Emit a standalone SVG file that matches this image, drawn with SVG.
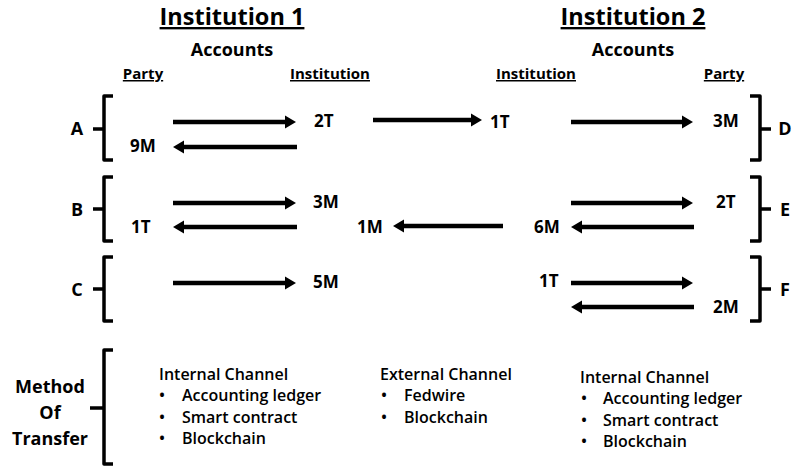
<svg xmlns="http://www.w3.org/2000/svg" width="793" height="468" viewBox="0 0 793 468">
  <style>
    text { font-family: "Open Sans", "Liberation Sans", sans-serif; font-weight: 700; fill: #000; }
    .title { font-size: 23.5px; text-anchor: middle; text-decoration: underline; }
    .acc { font-size: 18px; text-anchor: middle; }
    .col { font-size: 15px; text-anchor: middle; text-decoration: underline; }
    .lbl { font-size: 18px; text-anchor: middle; }
    .amt { font-size: 17px; }
    .ch { font-size: 16px; font-weight: 600; }
    .brace { fill: none; stroke: #000; stroke-width: 3.5; stroke-linejoin: round; }
    .flow line { stroke: #000; stroke-width: 4.5; marker-end: url(#head); }
  </style>
  <defs>
    <marker id="head" markerUnits="userSpaceOnUse" markerWidth="14" markerHeight="14" viewBox="0 -7 12 14" refX="2" refY="0" orient="auto">
      <path d="M0,-6.5 L11,0 L0,6.5 z" fill="#000"/>
    </marker>
  </defs>

  <rect width="793" height="468" fill="#fff"/>

  <!-- headings -->
  <g id="institution-1">
    <text class="title" x="232" y="25">Institution 1</text>
    <text class="acc" x="232" y="56">Accounts</text>
    <text class="col" x="143" y="79">Party</text>
    <text class="col" x="330" y="79">Institution</text>
  </g>
  <g id="institution-2">
    <text class="title" x="633" y="25">Institution 2</text>
    <text class="acc" x="633" y="56">Accounts</text>
    <text class="col" x="536" y="79">Institution</text>
    <text class="col" x="724" y="79">Party</text>
  </g>

  <!-- left parties -->
  <g id="party-a">
    <path class="brace" d="M113,96 H104 V160 H113 M93,129 H104"/>
    <text class="lbl" x="77" y="135">A</text>
  </g>
  <g id="party-b">
    <path class="brace" d="M113,177 H104 V241 H113 M93,209 H104"/>
    <text class="lbl" x="77" y="216">B</text>
  </g>
  <g id="party-c">
    <path class="brace" d="M113,257 H104 V321 H113 M93,289 H104"/>
    <text class="lbl" x="77" y="296">C</text>
  </g>

  <!-- right parties -->
  <g id="party-d">
    <path class="brace" d="M750,96 H760 V160 H750 M760,129 H771"/>
    <text class="lbl" x="785" y="135">D</text>
  </g>
  <g id="party-e">
    <path class="brace" d="M750,177 H760 V241 H750 M760,209 H771"/>
    <text class="lbl" x="785" y="216">E</text>
  </g>
  <g id="party-f">
    <path class="brace" d="M750,257 H760 V321 H750 M760,289 H771"/>
    <text class="lbl" x="785" y="296">F</text>
  </g>

  <!-- account balances -->
  <g id="balances">
    <text class="amt" x="314" y="127">2T</text>
    <text class="amt" x="130" y="152">9M</text>
    <text class="amt" x="490" y="128">1T</text>
    <text class="amt" x="713" y="127">3M</text>
    <text class="amt" x="313" y="208">3M</text>
    <text class="amt" x="131" y="233">1T</text>
    <text class="amt" x="357" y="233">1M</text>
    <text class="amt" x="534" y="233">6M</text>
    <text class="amt" x="716" y="208">2T</text>
    <text class="amt" x="313" y="288">5M</text>
    <text class="amt" x="539" y="287">1T</text>
    <text class="amt" x="713" y="313">2M</text>
  </g>

  <!-- transfers -->
  <g id="connectors" class="flow">
    <line x1="173" y1="122" x2="287" y2="122"/>
    <line x1="297" y1="147" x2="182" y2="147"/>
    <line x1="373" y1="120" x2="473" y2="120"/>
    <line x1="571" y1="122" x2="684" y2="122"/>
    <line x1="173" y1="203" x2="287" y2="203"/>
    <line x1="297" y1="227" x2="182" y2="227"/>
    <line x1="503" y1="226" x2="402" y2="226"/>
    <line x1="571" y1="203" x2="684" y2="203"/>
    <line x1="694" y1="227" x2="580" y2="227"/>
    <line x1="173" y1="283" x2="287" y2="283"/>
    <line x1="571" y1="283" x2="684" y2="283"/>
    <line x1="694" y1="307" x2="580" y2="307"/>
  </g>

  <!-- method of transfer -->
  <g id="method">
    <path class="brace" d="M113,350 H104 V464 H113 M90,408 H104"/>
    <text class="lbl" x="50" y="393">Method</text>
    <text class="lbl" x="50" y="419">Of</text>
    <text class="lbl" x="50" y="445">Transfer</text>
  </g>
  <g id="internal-1">
    <text class="ch" x="159" y="380">Internal Channel</text>
    <text class="ch" x="159" y="401">•</text><text class="ch" x="182" y="401">Accounting ledger</text>
    <text class="ch" x="159" y="423">•</text><text class="ch" x="182" y="423">Smart contract</text>
    <text class="ch" x="159" y="444">•</text><text class="ch" x="182" y="444">Blockchain</text>
  </g>
  <g id="external">
    <text class="ch" x="380" y="380">External Channel</text>
    <text class="ch" x="381" y="401">•</text><text class="ch" x="404" y="401">Fedwire</text>
    <text class="ch" x="381" y="423">•</text><text class="ch" x="404" y="423">Blockchain</text>
  </g>
  <g id="internal-2">
    <text class="ch" x="580" y="383">Internal Channel</text>
    <text class="ch" x="581" y="404">•</text><text class="ch" x="603" y="404">Accounting ledger</text>
    <text class="ch" x="581" y="426">•</text><text class="ch" x="603" y="426">Smart contract</text>
    <text class="ch" x="581" y="447">•</text><text class="ch" x="603" y="447">Blockchain</text>
  </g>
</svg>
